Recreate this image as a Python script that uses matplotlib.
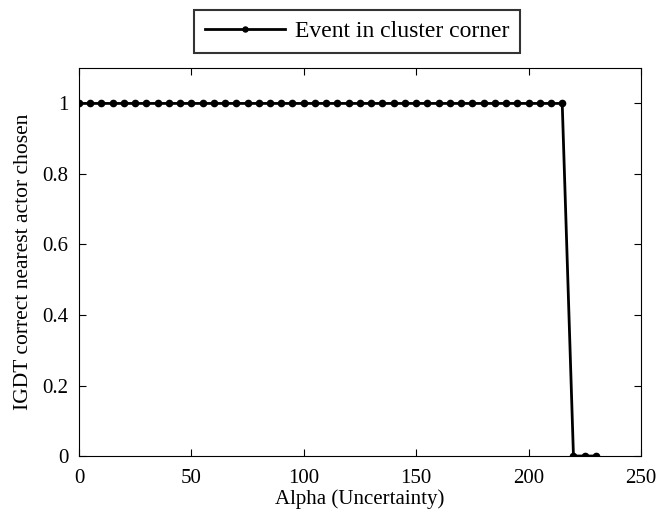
import numpy as np
import matplotlib
matplotlib.use("Agg")
import matplotlib.pyplot as plt

# ---------------------------------------------------------------------------
# Data
# ---------------------------------------------------------------------------
alpha = [0, 5, 10, 15, 20, 25, 30, 35, 40, 45, 50, 55, 60, 65, 70, 75, 80,
         85, 90, 95, 100, 105, 110, 115, 120, 125, 130, 135, 140, 145, 150,
         155, 160, 165, 170, 175, 180, 185, 190, 195, 200, 205, 210, 215,
         220, 225, 230]
chosen = [1] * 44 + [0, 0, 0]
series_label = "Event in cluster corner"

# ---------------------------------------------------------------------------
# Plot
# ---------------------------------------------------------------------------
plt.rcParams["font.family"] = ["Liberation Serif", "DejaVu Serif"]
plt.rcParams["font.size"] = 14

fig = plt.figure(figsize=(6.58, 5.22), dpi=100)
ax = fig.add_axes([0.120, 0.1264, 0.854, 0.743])

ax.plot(alpha, chosen, "k-", marker="o", markersize=4.5, linewidth=2,
        label=series_label)

ax.set_xlim(0, 250)
ax.set_ylim(0, 1.1)
ax.set_xticks([0, 50, 100, 150, 200, 250])
ax.set_yticks([0, 0.2, 0.4, 0.6, 0.8, 1])
ax.set_yticklabels(["0", "0.2", "0.4", "0.6", "0.8", "1"])
ax.tick_params(direction="in", top=True, right=True, length=5, width=0.8,
               labelsize=15)
ax.tick_params(axis="y", pad=7.5)
ax.tick_params(axis="x", pad=9)
for sp in ax.spines.values():
    sp.set_linewidth(0.8)

ax.set_xlabel("Alpha (Uncertainty)", fontsize=15, labelpad=1)
ax.set_ylabel("IGDT correct nearest actor chosen", fontsize=15.5, labelpad=7)

leg = ax.legend(loc="center", bbox_to_anchor=(0.495, 1.094), frameon=True,
                fancybox=False, edgecolor="black", fontsize=17,
                handlelength=3.4, handletextpad=0.4, borderpad=0.45,
                markerscale=0.8)
leg.get_frame().set_linewidth(1.5)

fig.savefig("out.png", dpi=100)
